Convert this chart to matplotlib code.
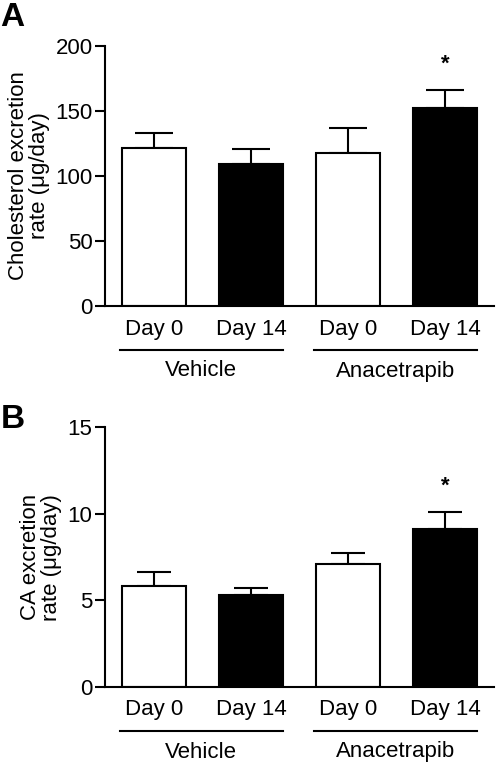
import matplotlib
matplotlib.use("Agg")
import matplotlib.pyplot as plt

plt.rcParams['font.family'] = ['Liberation Sans', 'DejaVu Sans']

day_labels = ["Day 0", "Day 14", "Day 0", "Day 14"]
groups = ["Vehicle", "Anacetrapib"]
bar_colors = ["white", "black", "white", "black"]

chol_mean = [121.8, 109.2, 117.4, 152.1]
chol_err = [11.3, 11.6, 19.3, 13.8]
chol_sig = [False, False, False, True]

ca_mean = [5.84, 5.34, 7.11, 9.15]
ca_err = [0.82, 0.37, 0.65, 0.93]
ca_sig = [False, False, False, True]

FS = 16
W, H = 498, 767
fig = plt.figure(figsize=(W / 100, H / 100), dpi=100)


def panel(rect, means, errs, sig, ylim, yticks, ylabel, letter, letter_xy, capsize, group_spans):
    ax = fig.add_axes(rect)
    x = list(range(len(means)))
    ax.bar(x, means, width=0.66, color=bar_colors, edgecolor="black", linewidth=1.5, zorder=2)
    ax.errorbar(x, means, yerr=[[0] * len(errs), errs], fmt="none", ecolor="black",
                elinewidth=1.5, capsize=capsize, capthick=1.5, zorder=1)
    for xi, m, e, s in zip(x, means, errs, sig):
        if s:
            ax.annotate("*", xy=(xi, m + e), xytext=(0, 19), textcoords="offset points",
                        ha="center", va="center", fontsize=FS, fontweight="bold")
    ax.set_xlim(-0.5, 3.5)
    ax.set_ylim(*ylim)
    ax.set_yticks(yticks)
    ax.set_xticks(x)
    ax.set_xticklabels(day_labels)
    ax.tick_params(axis="x", length=0, pad=9, labelsize=FS)
    ax.tick_params(axis="y", length=7, width=1.5, pad=2, labelsize=FS)
    for sp in ["top", "right"]:
        ax.spines[sp].set_visible(False)
    for sp in ["left", "bottom"]:
        ax.spines[sp].set_linewidth(1.5)
    ax.set_ylabel(ylabel, fontsize=FS, labelpad=4, linespacing=1.0)
    trans = ax.get_xaxis_transform()
    height_px = rect[3] * H
    for (x0, x1), g in zip(group_spans, groups):
        ax.plot([x0, x1], [-44 / height_px] * 2, color="black", lw=1.5,
                transform=trans, clip_on=False)
        ax.text((x0 + x1) / 2, -65 / height_px, g, transform=trans, ha="center",
                va="center", fontsize=FS)
    fig.text(letter_xy[0] / W, 1 - letter_xy[1] / H, letter, fontsize=24,
             fontweight="bold", ha="left", va="top")
    return ax


spans = [(-0.35, 1.33), (1.65, 3.33)]
panel([105 / W, 1 - 306 / H, 389 / W, 260 / H], chol_mean, chol_err, chol_sig,
      (0, 200), [0, 50, 100, 150, 200], "Cholesterol excretion\nrate (μg/day)",
      "A", (0, 2), 14, spans)
panel([105 / W, 1 - 687 / H, 389 / W, 259.7 / H], ca_mean, ca_err, ca_sig,
      (0, 15), [0, 5, 10, 15], "CA excretion\nrate (μg/day)",
      "B", (1, 404), 12, spans)

fig.savefig("out.png", dpi=100)
